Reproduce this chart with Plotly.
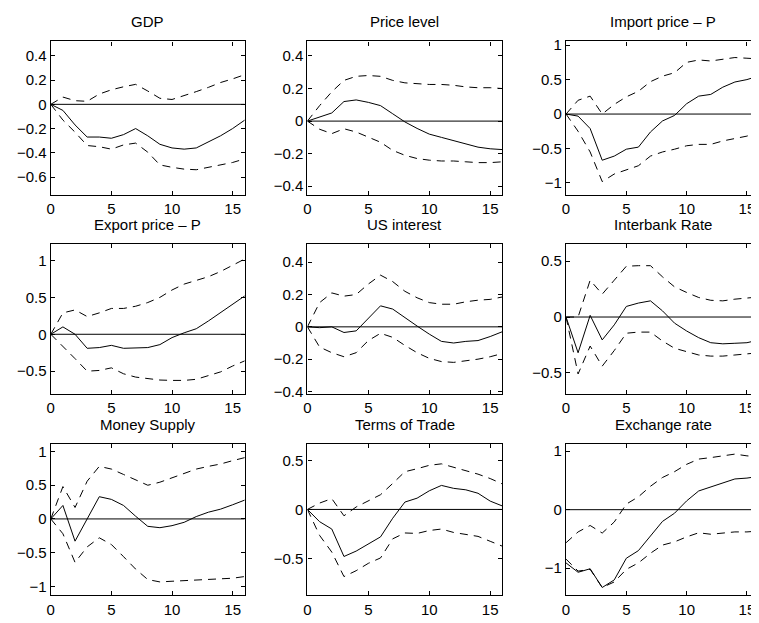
import plotly.graph_objects as go

# The page body has an 8px margin, so the figure is drawn at (8, 8) in the window.
OFF = 8
W, H = 759 - OFF, 623 - OFF
horizon = list(range(17))

titles = ["GDP", "Price level", "Import price \u2013 P",
          "Export price \u2013 P", "US interest", "Interbank Rate",
          "Money Supply", "Terms of Trade", "Exchange rate"]

gdp_mid = [0, -0.05, -0.17, -0.27, -0.27, -0.28, -0.25, -0.20, -0.26, -0.33, -0.36, -0.37, -0.36, -0.31, -0.26, -0.20, -0.13]
gdp_up = [0, 0.06, 0.03, 0.025, 0.085, 0.12, 0.145, 0.165, 0.11, 0.05, 0.04, 0.07, 0.105, 0.14, 0.18, 0.21, 0.245]
gdp_lo = [0, -0.13, -0.23, -0.34, -0.35, -0.37, -0.335, -0.32, -0.395, -0.50, -0.52, -0.535, -0.54, -0.52, -0.50, -0.48, -0.45]

price_mid = [0, 0.025, 0.05, 0.12, 0.13, 0.115, 0.095, 0.045, -0.005, -0.045, -0.08, -0.10, -0.12, -0.14, -0.16, -0.17, -0.175]
price_up = [0, 0.095, 0.18, 0.25, 0.275, 0.28, 0.275, 0.25, 0.235, 0.23, 0.225, 0.225, 0.22, 0.21, 0.205, 0.205, 0.20]
price_lo = [0, -0.05, -0.077, -0.047, -0.067, -0.10, -0.13, -0.18, -0.21, -0.23, -0.24, -0.245, -0.245, -0.25, -0.255, -0.255, -0.25]

imp_mid = [0, -0.03, -0.21, -0.67, -0.61, -0.51, -0.48, -0.26, -0.10, -0.02, 0.15, 0.26, 0.285, 0.39, 0.465, 0.50, 0.555]
imp_up = [0, 0.20, 0.26, 0.0, 0.14, 0.25, 0.33, 0.47, 0.55, 0.60, 0.75, 0.785, 0.77, 0.80, 0.82, 0.81, 0.80]
imp_lo = [0, -0.25, -0.55, -0.98, -0.87, -0.81, -0.75, -0.61, -0.55, -0.51, -0.46, -0.44, -0.44, -0.39, -0.35, -0.32, -0.26]

exp_mid = [0, 0.10, 0.0, -0.19, -0.18, -0.15, -0.19, -0.19, -0.18, -0.14, -0.045, 0.02, 0.075, 0.18, 0.29, 0.40, 0.52]
exp_up = [0, 0.29, 0.33, 0.24, 0.29, 0.35, 0.35, 0.38, 0.43, 0.50, 0.60, 0.68, 0.73, 0.78, 0.85, 0.94, 1.02]
exp_lo = [0, -0.16, -0.33, -0.50, -0.49, -0.455, -0.535, -0.58, -0.60, -0.62, -0.625, -0.625, -0.61, -0.56, -0.51, -0.43, -0.36]

us_mid = [0, -0.005, 0.0, -0.035, -0.025, 0.055, 0.13, 0.11, 0.055, 0.005, -0.045, -0.09, -0.10, -0.09, -0.085, -0.06, -0.03]
us_up = [0, 0.15, 0.21, 0.19, 0.20, 0.265, 0.32, 0.28, 0.22, 0.18, 0.15, 0.14, 0.14, 0.155, 0.165, 0.17, 0.185]
us_lo = [0, -0.125, -0.16, -0.185, -0.16, -0.085, -0.04, -0.065, -0.115, -0.16, -0.195, -0.215, -0.22, -0.21, -0.20, -0.185, -0.165]

ib_mid = [0, -0.32, 0.015, -0.205, -0.07, 0.095, 0.125, 0.145, 0.055, -0.055, -0.125, -0.185, -0.23, -0.24, -0.235, -0.23, -0.205]
ib_up = [0, 0.0, 0.33, 0.205, 0.33, 0.455, 0.46, 0.46, 0.36, 0.27, 0.22, 0.175, 0.15, 0.145, 0.16, 0.17, 0.18]
ib_lo = [0, -0.51, -0.26, -0.44, -0.30, -0.145, -0.135, -0.135, -0.215, -0.28, -0.31, -0.34, -0.35, -0.35, -0.34, -0.33, -0.32]

ms_mid = [0, 0.20, -0.33, 0.0, 0.33, 0.29, 0.20, 0.04, -0.11, -0.13, -0.10, -0.05, 0.035, 0.10, 0.145, 0.21, 0.28]
ms_up = [0, 0.48, 0.17, 0.56, 0.78, 0.74, 0.66, 0.585, 0.50, 0.545, 0.61, 0.68, 0.74, 0.78, 0.815, 0.865, 0.91]
ms_lo = [0, -0.22, -0.645, -0.415, -0.28, -0.38, -0.56, -0.745, -0.90, -0.935, -0.925, -0.915, -0.90, -0.89, -0.89, -0.88, -0.855]

tot_mid = [0, -0.125, -0.20, -0.48, -0.425, -0.35, -0.28, -0.09, 0.075, 0.115, 0.19, 0.245, 0.215, 0.20, 0.165, 0.085, 0.035]
tot_up = [0, 0.065, 0.11, -0.065, 0.025, 0.085, 0.15, 0.265, 0.385, 0.415, 0.45, 0.465, 0.43, 0.395, 0.36, 0.315, 0.26]
tot_lo = [0, -0.265, -0.435, -0.685, -0.625, -0.55, -0.495, -0.30, -0.24, -0.245, -0.215, -0.20, -0.235, -0.255, -0.275, -0.325, -0.375]

fx_mid = [-0.91, -1.07, -1.01, -1.33, -1.20, -0.83, -0.70, -0.44, -0.20, -0.06, 0.15, 0.32, 0.385, 0.46, 0.525, 0.54, 0.57]
fx_up = [-0.565, -0.38, -0.27, -0.40, -0.21, 0.095, 0.22, 0.40, 0.55, 0.65, 0.775, 0.865, 0.89, 0.92, 0.95, 0.92, 0.905]
fx_lo = [-0.845, -1.05, -1.02, -1.33, -1.235, -1.02, -0.91, -0.745, -0.605, -0.55, -0.465, -0.395, -0.42, -0.395, -0.38, -0.38, -0.365]

series = [
    (gdp_mid, gdp_up, gdp_lo), (price_mid, price_up, price_lo), (imp_mid, imp_up, imp_lo),
    (exp_mid, exp_up, exp_lo), (us_mid, us_up, us_lo), (ib_mid, ib_up, ib_lo),
    (ms_mid, ms_up, ms_lo), (tot_mid, tot_up, tot_lo), (fx_mid, fx_up, fx_lo),
]

y_ranges = [[-0.746, 0.519], [-0.452, 0.489], [-1.17, 1.053],
            [-0.81, 1.226], [-0.416, 0.514], [-0.69, 0.656],
            [-1.135, 1.11], [-0.877, 0.666], [-1.465, 1.12]]
y_ticks = [[-0.6, -0.4, -0.2, 0, 0.2, 0.4], [-0.4, -0.2, 0, 0.2, 0.4], [-1, -0.5, 0, 0.5, 1],
           [-0.5, 0, 0.5, 1], [-0.4, -0.2, 0, 0.2, 0.4], [-0.5, 0, 0.5],
           [-1, -0.5, 0, 0.5, 1], [-0.5, 0, 0.5], [-1, 0, 1]]
x_ticks = [0, 5, 10, 15]

# pixel layout of plot boxes (window coordinates)
col_px = [(47, 242), (305, 501), (565, 760)]
row_px = [(37, 193), (243, 396), (447, 601)]

FONT = "Liberation Sans, Arial, Helvetica, sans-serif"
fig = go.Figure()
layout = {}
annotations = []
for i in range(9):
    r, c = divmod(i, 3)
    n = i + 1
    xa = "xaxis" if n == 1 else f"xaxis{n}"
    ya = "yaxis" if n == 1 else f"yaxis{n}"
    xr = "x" if n == 1 else f"x{n}"
    yr = "y" if n == 1 else f"y{n}"
    x0, x1 = (p - OFF for p in col_px[c])
    top, bot = (p - OFF for p in row_px[r])
    xdom = [x0 / W, min(x1 / W, 1.0)]
    ydom = [1 - bot / H, 1 - top / H]
    mid, up, lo = series[i]
    for vals, dash in ((up, "8px,6px"), (lo, "8px,6px"), (mid, "solid")):
        fig.add_trace(go.Scatter(x=horizon, y=vals, mode="lines",
                                 line=dict(color="black", width=1, dash=dash),
                                 xaxis=xr, yaxis=yr, showlegend=False, hoverinfo="skip"))
    fig.add_trace(go.Scatter(x=[horizon[0], horizon[-1]], y=[0, 0], mode="lines",
                             line=dict(color="black", width=1), xaxis=xr, yaxis=yr,
                             showlegend=False, hoverinfo="skip"))
    common = dict(showline=True, linecolor="black", linewidth=1.3, ticks="inside",
                  ticklen=4, tickcolor="black", showgrid=False, zeroline=False,
                  tickfont=dict(family=FONT, size=15, color="black"))
    layout[xa] = dict(domain=xdom, range=[0, 16], tickvals=x_ticks, anchor=yr,
                      mirror="ticks", **common)
    layout[ya] = dict(domain=ydom, range=y_ranges[i], tickvals=y_ticks[i], anchor=xr,
                      mirror="ticks" if c < 2 else False, **common)
    annotations.append(dict(text=titles[i], x=(x0 + x1) / 2 / W, y=ydom[1],
                            xref="paper", yref="paper", xanchor="center", yanchor="bottom",
                            yshift=9, showarrow=False,
                            font=dict(family=FONT, size=15, color="black")))

fig.update_layout(width=W, height=H, margin=dict(l=0, r=0, t=0, b=0),
                  paper_bgcolor="white", plot_bgcolor="white",
                  annotations=annotations, **layout)
fig.write_html("out.html")
